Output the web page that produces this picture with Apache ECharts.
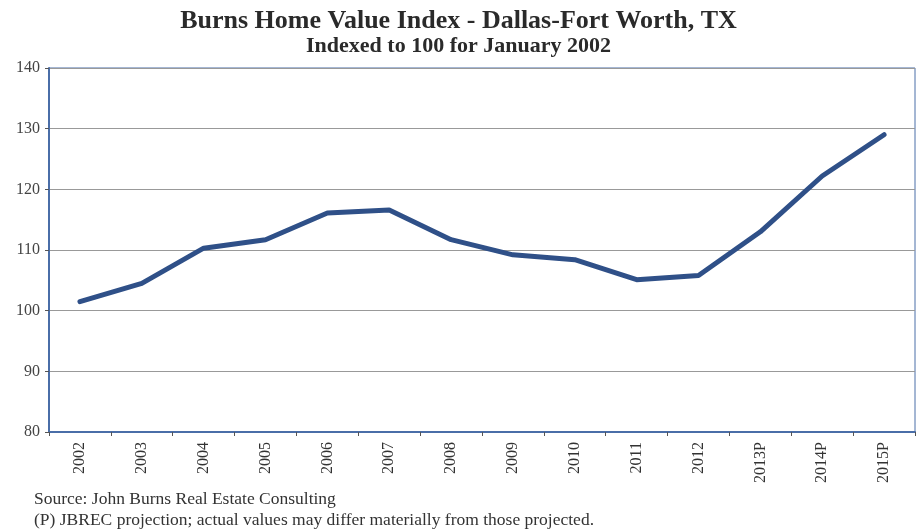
<!DOCTYPE html>
<html>
<head>
<meta charset="utf-8">
<script src="https://cdn.jsdelivr.net/npm/echarts@6/dist/echarts.min.js"></script>
<style>
  html, body { margin: 0; padding: 0; background: #fff; }
  #chart { width: 917px; height: 530px; }
</style>
</head>
<body>
<div id="chart"></div>
<script>
const years = ['2002', '2003', '2004', '2005', '2006', '2007', '2008', '2009', '2010', '2011', '2012', '2013P', '2014P', '2015P'];
const indexValues = [101.5, 104.5, 110.3, 111.7, 116.1, 116.6, 111.7, 109.2, 108.4, 105.1, 105.8, 113.0, 122.2, 129.0];

const serif = '"Liberation Serif", "DejaVu Serif", serif';
const axisBlue = '#4a6ea8';

const chart = echarts.init(document.getElementById('chart'), null, { renderer: 'canvas' });

chart.setOption({
  animation: false,
  title: [
    {
      text: 'Burns Home Value Index - Dallas-Fort Worth, TX',
      left: 'center', top: 3,
      textStyle: { fontFamily: serif, fontSize: 26, fontWeight: 'bold', color: '#2a2a2a' }
    },
    {
      text: 'Indexed to 100 for January 2002',
      left: 'center', top: 30,
      textStyle: { fontFamily: serif, fontSize: 22, fontWeight: 'bold', color: '#2a2a2a' }
    },
    {
      text: 'Source: John Burns Real Estate Consulting',
      left: 29, top: 485,
      textStyle: { fontFamily: serif, fontSize: 17.5, fontWeight: 'normal', color: '#333' }
    },
    {
      text: '(P) JBREC projection; actual values may differ materially from those projected.',
      left: 29, top: 506,
      textStyle: { fontFamily: serif, fontSize: 17.5, fontWeight: 'normal', color: '#333' }
    }
  ],
  grid: { left: 49, right: 2, top: 68, bottom: 98, show: true, borderColor: axisBlue, borderWidth: 1 },
  xAxis: {
    type: 'category',
    data: years,
    boundaryGap: true,
    axisLine: { lineStyle: { color: axisBlue, width: 2 } },
    axisTick: { show: true, length: 4, lineStyle: { color: '#555' } },
    axisLabel: {
      rotate: 90, margin: 10, interval: 0,
      fontFamily: serif, fontSize: 16, color: '#333'
    },
    splitLine: { show: false }
  },
  yAxis: {
    type: 'value',
    min: 80, max: 140, interval: 10,
    axisLine: { show: true, lineStyle: { color: axisBlue, width: 2 } },
    axisTick: { show: true, length: 4, lineStyle: { color: '#555' } },
    axisLabel: { fontFamily: serif, fontSize: 16, color: '#444', margin: 9 },
    splitLine: { show: true, lineStyle: { color: '#999', width: 1 } }
  },
  series: [
    {
      type: 'line',
      data: indexValues,
      symbol: 'none',
      lineStyle: { color: '#2f5088', width: 5, cap: 'round', join: 'round' }
    }
  ]
});
</script>
</body>
</html>
